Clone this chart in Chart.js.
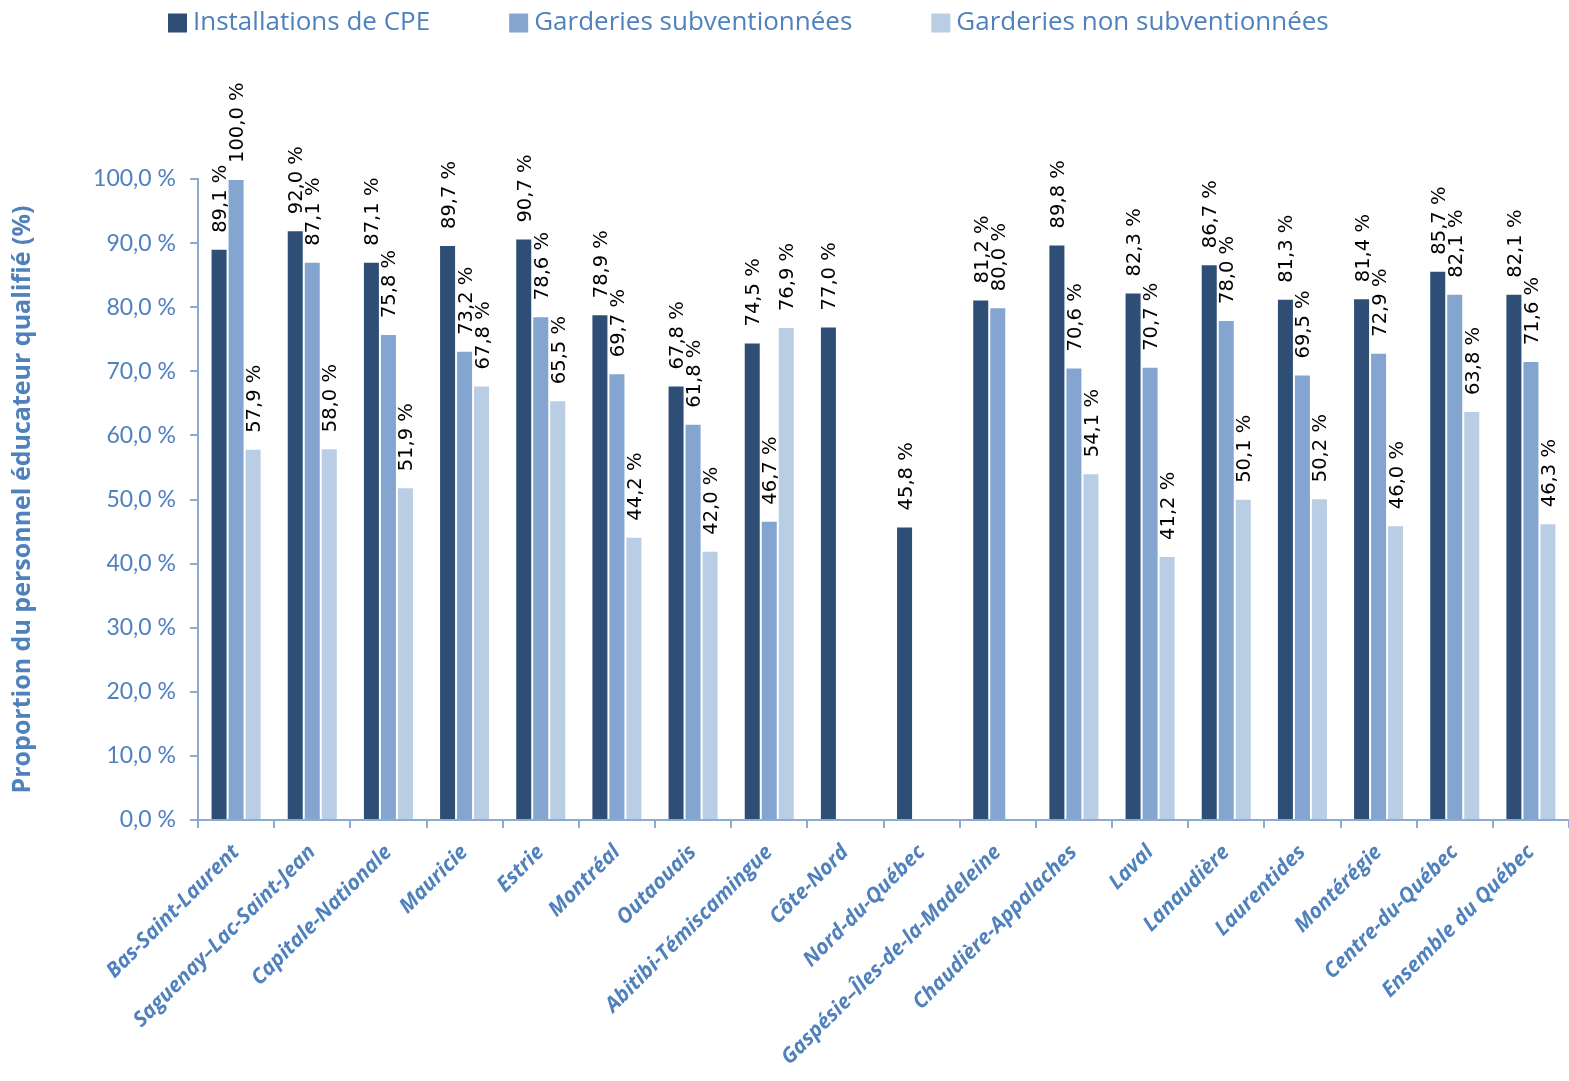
<!DOCTYPE html>
<html>
<head>
<meta charset="utf-8">
<script src="https://cdn.jsdelivr.net/npm/chart.js@4"></script>
<style>
  html, body { margin: 0; padding: 0; background: #fff; }
  #wrap { width: 1569px; height: 1081px; position: relative; }
</style>
</head>
<body>
<div id="wrap"><canvas id="myChart"></canvas></div>
<script>
// régions
var regions = ['Bas-Saint-Laurent', 'Saguenay\u2013Lac-Saint-Jean', 'Capitale-Nationale', 'Mauricie', 'Estrie',
  'Montréal', 'Outaouais', 'Abitibi-Témiscamingue', 'Côte-Nord', 'Nord-du-Québec',
  'Gaspésie\u2013Îles-de-la-Madeleine', 'Chaudière-Appalaches', 'Laval', 'Lanaudière', 'Laurentides',
  'Montérégie', 'Centre-du-Québec', 'Ensemble du Québec'];

var seriesNames = ['Installations de CPE', 'Garderies subventionnées', 'Garderies non subventionnées'];

var cpe = [89.1, 92.0, 87.1, 89.7, 90.7, 78.9, 67.8, 74.5, 77.0, 45.8, 81.2, 89.8, 82.3, 86.7, 81.3, 81.4, 85.7, 82.1];
var subv = [100.0, 87.1, 75.8, 73.2, 78.6, 69.7, 61.8, 46.7, null, null, 80.0, 70.6, 70.7, 78.0, 69.5, 72.9, 82.1, 71.6];
var nonSubv = [57.9, 58.0, 51.9, 67.8, 65.5, 44.2, 42.0, 76.9, null, null, null, 54.1, 41.2, 50.1, 50.2, 46.0, 63.8, 46.3];

var yTicksMin = 0, yTicksMax = 100, yTicksStep = 10;

var colors = ['#2e4e76', '#83a5cf', '#b9cde5'];
var blueText = '#4f81bd';
var axisColor = '#8eaad1';

function pct(v) {
    return v.toFixed(1).replace('.', ',') + '\u00a0%';
}

// étiquettes verticales au-dessus des barres
var barLabels = {
    id: 'barLabels',
    afterDatasetsDraw(chart) {
        var ctx = chart.ctx;
        ctx.save();
        ctx.font = '19.5px "DejaVu Sans"';
        ctx.fillStyle = '#000';
        ctx.textAlign = 'left';
        ctx.textBaseline = 'middle';
        chart.data.datasets.forEach(function(ds, i) {
            var meta = chart.getDatasetMeta(i);
            meta.data.forEach(function(bar, j) {
                var v = ds.data[j];
                if (v === null || v === undefined) return;
                ctx.save();
                ctx.translate(bar.x + 2, bar.y - 16);
                ctx.rotate(-Math.PI / 2);
                ctx.fillText(pct(v), 0, 0);
                ctx.restore();
            });
        });
        ctx.restore();
    }
};

// légende du haut
var topLegend = {
    id: 'topLegend',
    afterDraw(chart) {
        var ctx = chart.ctx;
        ctx.save();
        ctx.font = '26px "Open Sans"';
        ctx.textBaseline = 'middle';
        ctx.textAlign = 'left';
        var x = 168, y = 23, box = 19, gap = 79;
        chart.data.datasets.forEach(function(ds) {
            ctx.fillStyle = ds.backgroundColor;
            ctx.fillRect(x, y - box / 2, box, box);
            ctx.fillStyle = blueText;
            ctx.fillText(ds.label, x + box + 6, y);
            x += box + 6 + ctx.measureText(ds.label).width + gap;
        });
        ctx.restore();
    }
};

window.onload = function() {
    var ctx = document.getElementById('myChart').getContext('2d');
    var data = [cpe, subv, nonSubv];
    new Chart(ctx, {
        type: 'bar',
        data: {
            labels: regions,
            datasets: seriesNames.map(function(name, i) {
                return {
                    label: name,
                    data: data[i],
                    backgroundColor: colors[i],
                    borderColor: 'rgba(255,255,255,0.3)',
                    borderWidth: 1,
                    barPercentage: 1.0,
                    categoryPercentage: 0.67
                };
            })
        },
        options: {
            responsive: true,
            maintainAspectRatio: false,
            animation: false,
            layout: { padding: { top: 179, left: 0, right: 0, bottom: 0 } },
            plugins: {
                legend: { display: false },
                tooltip: { enabled: false }
            },
            scales: {
                x: {
                    afterFit: function(scale) { scale.height = 261; },
                    grid: {
                        offset: true,
                        drawOnChartArea: false,
                        tickLength: 8,
                        color: axisColor,
                        lineWidth: 2
                    },
                    border: { color: axisColor, width: 2 },
                    ticks: {
                        autoSkip: false,
                        maxRotation: 45,
                        minRotation: 45,
                        padding: 12,
                        color: blueText,
                        font: { family: '"Open Sans"', size: 21, style: 'italic', weight: 'bold' }
                    }
                },
                y: {
                    min: yTicksMin,
                    max: yTicksMax,
                    afterFit: function(scale) { scale.width = 198; },
                    grid: {
                        drawOnChartArea: false,
                        tickLength: 8,
                        color: axisColor,
                        lineWidth: 2
                    },
                    border: { color: axisColor, width: 2 },
                    ticks: {
                        stepSize: yTicksStep,
                        padding: 14,
                        color: blueText,
                        font: { family: 'Lato', size: 23 },
                        callback: function(v) { return pct(v); }
                    },
                    title: {
                        display: true,
                        text: 'Proportion du personnel éducateur qualifié (%)',
                        color: blueText,
                        font: { family: '"Open Sans"', size: 25, weight: 'bold' },
                        padding: { top: 8, bottom: 0 }
                    }
                }
            }
        },
        plugins: [barLabels, topLegend]
    });
};
</script>
</body>
</html>
